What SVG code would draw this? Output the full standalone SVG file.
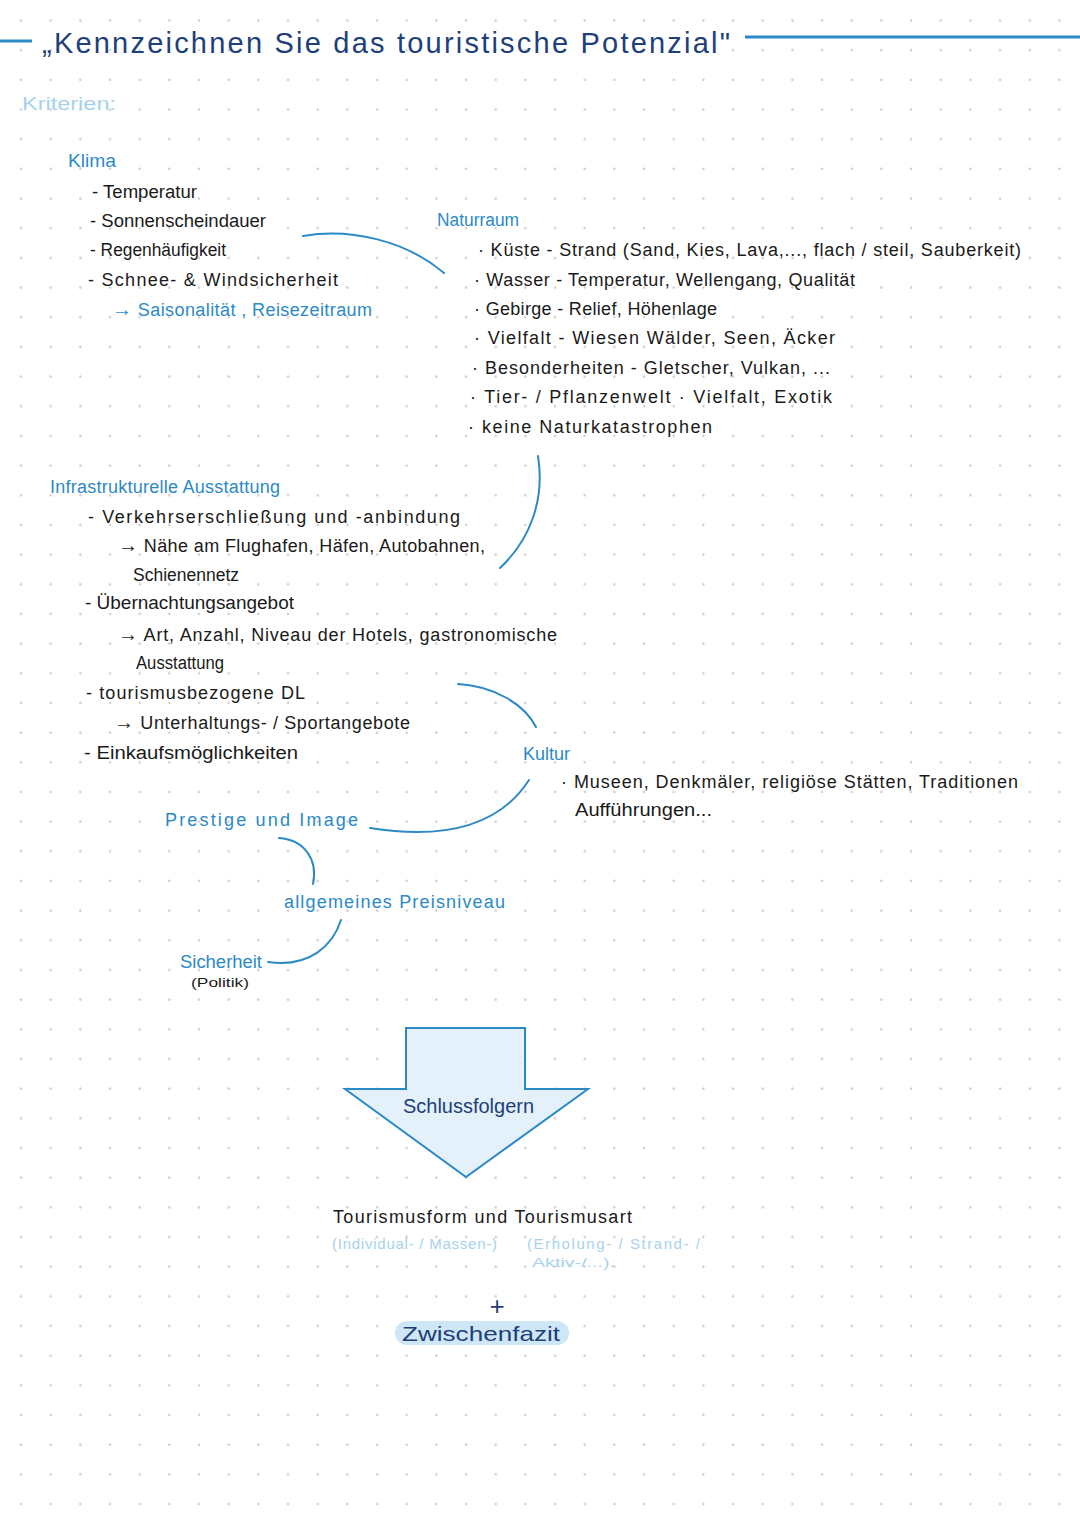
<svg xmlns="http://www.w3.org/2000/svg" width="1080" height="1525" viewBox="0 0 1080 1525">
<defs>
<pattern id="dots" patternUnits="userSpaceOnUse" x="0" y="0" width="29.67" height="29.67">
<circle cx="21" cy="20.5" r="1.2" fill="#c8c8c8"/>
</pattern>
<style>
text{font-family:"Liberation Sans","DejaVu Sans",sans-serif;}
.t{font-size:18px;fill:#1a1a1a;}
.s{font-size:13px;fill:#1a1a1a;}
.h{font-size:18px;fill:#2b8ac6;}
.lb{font-size:15px;fill:#a6d2ee;}
.nv{fill:#1d3f7a;}
.ar{font-size:20px;}
.title{font-size:29px;fill:#1d3f7a;}
.con{fill:none;stroke:#2b8ac6;stroke-width:2;stroke-linecap:round;}
.rule{stroke:#2b8ac6;stroke-width:3;}
</style>
</defs>
<rect width="1080" height="1525" fill="#ffffff"/>
<rect width="1080" height="1525" fill="url(#dots)"/>

<g id="title">
<line class="rule" x1="0" y1="41" x2="32" y2="41"/>
<line class="rule" x1="745" y1="37" x2="1080" y2="37"/>
<text class="title" x="42" y="53" textLength="688" lengthAdjust="spacing">„Kennzeichnen  Sie  das  touristische  Potenzial"</text>
</g>

<g id="kriterien">
<text class="lb" x="22" y="110" style="font-size:18px" textLength="94" lengthAdjust="spacingAndGlyphs">Kriterien:</text>
</g>

<g id="klima">
<text class="h" x="68" y="167" textLength="48" lengthAdjust="spacingAndGlyphs">Klima</text>
<text class="t" x="92" y="198" textLength="105" lengthAdjust="spacingAndGlyphs">- Temperatur</text>
<text class="t" x="90" y="227" textLength="176" lengthAdjust="spacingAndGlyphs">- Sonnenscheindauer</text>
<text class="t" x="90" y="256" textLength="136" lengthAdjust="spacingAndGlyphs">- Regenhäufigkeit</text>
<text class="t" x="88" y="286" textLength="250" lengthAdjust="spacing">- Schnee- &amp; Windsicherheit</text>
<text class="h" x="112" y="316" textLength="260" lengthAdjust="spacing"><tspan class="ar">→</tspan> Saisonalität , Reisezeitraum</text>
</g>

<g id="naturraum">
<text class="h" x="437" y="226" textLength="82" lengthAdjust="spacingAndGlyphs">Naturraum</text>
<text class="t" x="478" y="256" textLength="543" lengthAdjust="spacing">· Küste  - Strand  (Sand, Kies, Lava,..., flach / steil, Sauberkeit)</text>
<text class="t" x="474" y="286" textLength="381" lengthAdjust="spacing">· Wasser - Temperatur, Wellengang, Qualität</text>
<text class="t" x="474" y="315" textLength="243" lengthAdjust="spacing">· Gebirge - Relief, Höhenlage</text>
<text class="t" x="474" y="344" textLength="361" lengthAdjust="spacing">· Vielfalt - Wiesen Wälder, Seen, Äcker</text>
<text class="t" x="472" y="374" textLength="358" lengthAdjust="spacing">· Besonderheiten - Gletscher, Vulkan, ...</text>
<text class="t" x="470" y="403" textLength="362" lengthAdjust="spacing">· Tier- / Pflanzenwelt · Vielfalt, Exotik</text>
<text class="t" x="468" y="433" textLength="244" lengthAdjust="spacing">· keine  Naturkatastrophen</text>
</g>

<g id="infrastruktur">
<text class="h" x="50" y="493" textLength="230" lengthAdjust="spacing">Infrastrukturelle  Ausstattung</text>
<text class="t" x="88" y="523" textLength="372" lengthAdjust="spacing">- Verkehrserschließung  und  -anbindung</text>
<text class="t" x="118" y="552" textLength="367" lengthAdjust="spacing"><tspan class="ar">→</tspan> Nähe am  Flughafen, Häfen, Autobahnen,</text>
<text class="t" x="133" y="581" textLength="106" lengthAdjust="spacingAndGlyphs">Schienennetz</text>
<text class="t" x="85" y="609" textLength="209" lengthAdjust="spacingAndGlyphs">- Übernachtungsangebot</text>
<text class="t" x="118" y="641" textLength="439" lengthAdjust="spacing"><tspan class="ar">→</tspan> Art, Anzahl, Niveau der Hotels, gastronomische</text>
<text class="t" x="136" y="669" textLength="88" lengthAdjust="spacingAndGlyphs">Ausstattung</text>
<text class="t" x="86" y="699" textLength="219" lengthAdjust="spacing">- tourismusbezogene DL</text>
<text class="t" x="114" y="729" textLength="296" lengthAdjust="spacing"><tspan class="ar">→</tspan>  Unterhaltungs- / Sportangebote</text>
<text class="t" x="84" y="759" textLength="214" lengthAdjust="spacingAndGlyphs">- Einkaufsmöglichkeiten</text>
</g>

<g id="kultur">
<text class="h" x="523" y="760" textLength="47" lengthAdjust="spacingAndGlyphs">Kultur</text>
<text class="t" x="561" y="788" textLength="457" lengthAdjust="spacing">· Museen, Denkmäler, religiöse Stätten, Traditionen</text>
<text class="t" x="575" y="816" textLength="137" lengthAdjust="spacingAndGlyphs">Aufführungen...</text>
</g>

<g id="prestige">
<text class="h" x="165" y="826" textLength="193" lengthAdjust="spacing">Prestige  und  Image</text>
</g>

<g id="preisniveau">
<text class="h" x="284" y="908" textLength="221" lengthAdjust="spacing">allgemeines  Preisniveau</text>
</g>

<g id="sicherheit">
<text class="h" x="180" y="968" textLength="82" lengthAdjust="spacingAndGlyphs">Sicherheit</text>
<text class="s" x="191" y="987" textLength="58" lengthAdjust="spacingAndGlyphs">(Politik)</text>
</g>

<g id="connectors">
<path class="con" d="M303,236 C350,228 405,240 444,273"/>
<path class="con" d="M538,456 C545,500 530,540 500,568"/>
<path class="con" d="M458,684 C495,686 525,705 536,727"/>
<path class="con" d="M529,780 C500,825 445,840 370,828"/>
<path class="con" d="M279,838 C305,840 318,860 313,884"/>
<path class="con" d="M341,920 C333,945 310,968 268,962"/>
</g>

<g id="schlussfolgern">
<path d="M406,1028 L525,1028 L525,1089 L588,1089 L466,1177 L345,1089 L406,1089 Z" fill="#e4f1fa" stroke="#2b8ac6" stroke-width="2" stroke-linejoin="miter"/>
<text class="t nv" x="403" y="1113" style="font-size:20px" textLength="131" lengthAdjust="spacingAndGlyphs">Schlussfolgern</text>
</g>

<g id="tourismus">
<text class="t" x="333" y="1223" textLength="299" lengthAdjust="spacing">Tourismusform  und  Tourismusart</text>
<text class="lb" x="332" y="1249" textLength="165" lengthAdjust="spacing">(Individual- / Massen-)</text>
<text class="lb" x="527" y="1249" textLength="173" lengthAdjust="spacing">(Erholung- / Strand- /</text>
<text class="lb" x="532" y="1267" style="font-size:13px" textLength="83" lengthAdjust="spacingAndGlyphs">Aktiv-/...).</text>
</g>

<g id="zwischenfazit">
<text class="nv" x="497" y="1315" text-anchor="middle" style="font-size:26px">+</text>
<rect x="395" y="1321" width="174" height="24" rx="12" fill="#cfe6f6"/>
<text class="t nv" x="402" y="1341" style="font-size:21px" textLength="158" lengthAdjust="spacingAndGlyphs">Zwischenfazit</text>
</g>
</svg>
